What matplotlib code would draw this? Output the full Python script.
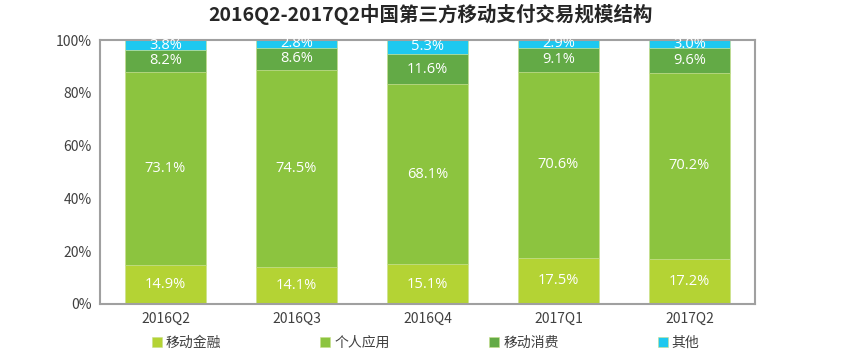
import matplotlib.pyplot as plt
import numpy as np

plt.rcParams['font.family'] = ['Noto Sans CJK SC', 'DejaVu Sans']

# 数据
quarters = ['2016Q2', '2016Q3', '2016Q4', '2017Q1', '2017Q2']
series_names = ['移动金融', '个人应用', '移动消费', '其他']
mobile_finance = [14.9, 14.1, 15.1, 17.5, 17.2]
personal_app = [73.1, 74.5, 68.1, 70.6, 70.2]
mobile_consume = [8.2, 8.6, 11.6, 9.1, 9.6]
others = [3.8, 2.8, 5.3, 2.9, 3.0]
colors = ['#B4D334', '#8CC43F', '#63AA46', '#1EC8F0']

fig = plt.figure(figsize=(8.53, 3.55), dpi=100)
ax = fig.add_axes([0.1172, 0.1437, 0.7678, 0.7433])

x = np.arange(len(quarters))
bottom = np.zeros(len(quarters))
for name, vals, c in zip(series_names, [mobile_finance, personal_app, mobile_consume, others], colors):
    vals = np.array(vals)
    ax.bar(x, vals, bottom=bottom, width=0.62, color=c, label=name,
           edgecolor='#C8E08A', linewidth=0.4)
    for xi, b, v in zip(x, bottom, vals):
        ax.text(xi, b + v / 2, f'{v:.1f}%', ha='center', va='center',
                color='white', fontsize=10.5, family=['Open Sans', 'DejaVu Sans'])
    bottom += vals

ax.set_xlim(-0.5, len(quarters) - 0.5)
ax.set_ylim(0, 100)
ax.set_yticks(range(0, 101, 20))
ax.set_yticklabels([f'{t}%' for t in range(0, 101, 20)])
ax.set_xticks(x)
ax.set_xticklabels(quarters)
ax.tick_params(length=0, labelsize=10, colors='#404040', pad=6)
for s in ax.spines.values():
    s.set_color('#A0A0A0')
    s.set_linewidth(1.5)

fig.suptitle('2016Q2-2017Q2中国第三方移动支付交易规模结构', x=0.505, y=0.99,
             fontsize=14, fontweight='bold', color='#262626')

fig.legend(loc='lower center', bbox_to_anchor=(0.499, -0.02), ncol=4,
           frameon=False, fontsize=10, handlelength=0.7, handleheight=0.7,
           handletextpad=0.3, columnspacing=7.15, labelcolor='#404040')

fig.savefig('out.png', dpi=100)
